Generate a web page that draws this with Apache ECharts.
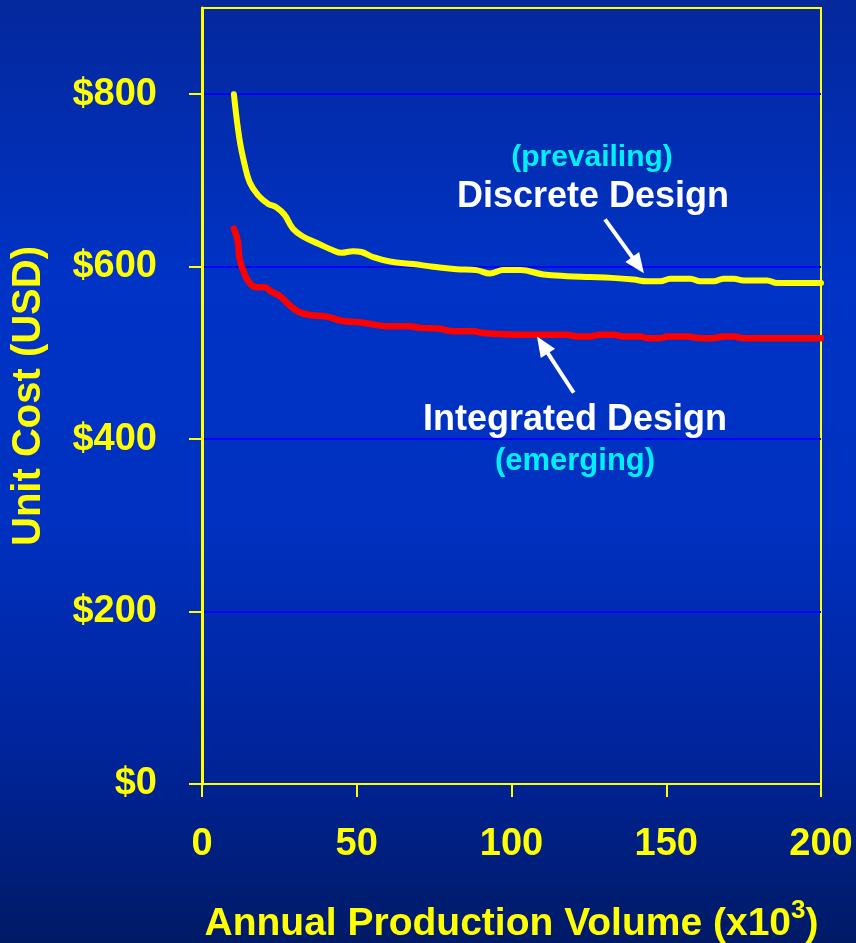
<!DOCTYPE html>
<html>
<head>
<meta charset="utf-8">
<script src="https://cdn.jsdelivr.net/npm/echarts@6/dist/echarts.min.js"></script>
<style>
  html, body { margin: 0; padding: 0; background: #0030c0; }
  #chart { width: 856px; height: 943px; }
</style>
</head>
<body>
<div id="chart"></div>
<script>
// Annual production volume (thousands) and unit cost (USD) for each design approach
const discreteVolume = [10.3, 12.1, 13.8, 15.4, 18.1, 21.3, 24, 26.7, 29.4, 32.6,
  38, 42.3, 45, 48.8, 51.5, 55.3, 60.7, 68.2, 74.7, 82.3,
  88.7, 93, 97.4, 102.8, 110.3, 117.8, 125.4, 132.4, 139.4, 143.8,
  148.1, 151.3, 157.8, 161, 165.3, 168.5, 171.8, 175, 182.6, 185.8, 200];
const discreteCost = [800, 748, 718, 698, 683, 673, 669, 660, 644, 635,
  626, 619, 616, 618, 617, 611, 606, 603, 600, 597,
  596, 592, 596, 596, 591, 589, 588, 587, 585, 583,
  583, 586, 586, 583, 583, 586, 586, 584, 584, 581, 581];

const integratedVolume = [10.3, 11.6, 12.1, 13.8, 15.4, 17.5, 20.2, 22.4, 25.1, 27.8,
  31, 34.8, 40.2, 45.6, 52, 59.6, 67.2, 70.4, 76.9, 81.2,
  87.6, 90.9, 104.9, 117.9, 121.1, 125.4, 128.6, 132.9, 136.2, 141.6,
  143.8, 148.1, 150.3, 156.8, 161, 165.3, 168.5, 171.8, 175, 200];
const integratedCost = [644, 629, 610, 591, 581, 576, 576, 571, 566, 557,
  548, 544, 542, 537, 535, 531, 531, 529, 528, 525,
  525, 523, 521, 521, 519, 519, 521, 521, 519, 519,
  517, 517, 519, 519, 517, 517, 519, 519, 517, 517];

const costTicks = [0, 200, 400, 600, 800];
const volumeTicks = [0, 50, 100, 150, 200];

const pairs = (xs, ys) => xs.map((x, i) => [x, ys[i]]);

const FONT = "'Liberation Sans', Arial, sans-serif";
const YELLOW = '#ffff00';
const CYAN = '#00f0ff';

const chart = echarts.init(document.getElementById('chart'), null, { renderer: 'canvas' });

const arrowLine = {
  silent: true,
  symbol: ['none', 'triangle'],
  symbolSize: [17, 20],
  label: { show: false },
  lineStyle: { color: '#ffffff', width: 4, type: 'solid' },
  emphasis: { disabled: true }
};

chart.setOption({
  animation: false,
  backgroundColor: {
    type: 'linear', x: 0, y: 0, x2: 0, y2: 1,
    colorStops: [
      { offset: 0, color: '#04289c' },
      { offset: 0.3, color: '#0033c6' },
      { offset: 0.55, color: '#0031c0' },
      { offset: 0.8, color: '#00249a' },
      { offset: 1, color: '#001a66' }
    ]
  },
  grid: {
    left: 202, right: 35, top: 8, bottom: 159,
    outerBoundsMode: 'none',
    containLabel: false,
    show: true, borderColor: YELLOW, borderWidth: 2, backgroundColor: 'transparent'
  },
  xAxis: {
    type: 'value',
    min: 0, max: 200, interval: 50,
    name: 'Annual Production Volume (x10{sup|3})',
    nameLocation: 'middle',
    nameGap: 114,
    nameTextStyle: {
      color: YELLOW, fontFamily: FONT, fontWeight: 'bold', fontSize: 39,
      rich: {
        sup: { color: YELLOW, fontFamily: FONT, fontWeight: 'bold', fontSize: 26, verticalAlign: 'top', padding: [0, 0, 26, 0] }
      }
    },
    axisLine: { show: true, lineStyle: { color: YELLOW, width: 2 } },
    axisTick: { show: true, inside: false, length: 13, lineStyle: { color: YELLOW, width: 2 }, customValues: volumeTicks },
    axisLabel: { color: YELLOW, fontFamily: FONT, fontWeight: 'bold', fontSize: 38, margin: 42, customValues: volumeTicks },
    splitLine: { show: false }
  },
  yAxis: {
    type: 'value',
    min: 0, max: 900, interval: 200,
    name: 'Unit Cost (USD)',
    nameLocation: 'middle',
    nameGap: 153,
    nameTextStyle: { color: YELLOW, fontFamily: FONT, fontWeight: 'bold', fontSize: 40 },
    axisLine: { show: true, lineStyle: { color: YELLOW, width: 3 } },
    axisTick: { show: true, inside: false, length: 13, lineStyle: { color: YELLOW, width: 2 }, customValues: costTicks },
    axisLabel: {
      color: YELLOW, fontFamily: FONT, fontWeight: 'bold', fontSize: 38, margin: 45,
      padding: [7, 0, 0, 0],
      customValues: costTicks,
      formatter: v => '$' + v
    },
    splitLine: { show: true, lineStyle: { color: '#0000ff', width: 2 } }
  },
  series: [
    {
      name: 'Discrete Design',
      type: 'line',
      data: pairs(discreteVolume, discreteCost),
      showSymbol: false,
      smooth: 0.4,
      lineStyle: { color: YELLOW, width: 6, cap: 'round', join: 'round' },
      z: 3,
      markLine: Object.assign({}, arrowLine, {
        data: [[{ coord: [130.2, 654.8] }, { coord: [140.9, 601.8] }]]
      })
    },
    {
      name: 'Integrated Design',
      type: 'line',
      data: pairs(integratedVolume, integratedCost),
      showSymbol: false,
      smooth: 0.4,
      lineStyle: { color: '#ff0000', width: 6.5, cap: 'round', join: 'round' },
      z: 3,
      markLine: Object.assign({}, arrowLine, {
        data: [[{ coord: [120.1, 453.8] }, { coord: [110.0, 509.2] }]]
      })
    }
  ],
  graphic: [
    { type: 'text', x: 592, y: 158, z: 10, style: { text: '(prevailing)', fill: CYAN, font: 'bold 30px ' + FONT, textAlign: 'center', textVerticalAlign: 'middle' } },
    { type: 'text', x: 593, y: 197, z: 10, style: { text: 'Discrete Design', fill: '#ffffff', font: 'bold 36px ' + FONT, textAlign: 'center', textVerticalAlign: 'middle' } },
    { type: 'text', x: 575, y: 420, z: 10, style: { text: 'Integrated Design', fill: '#ffffff', font: 'bold 36px ' + FONT, textAlign: 'center', textVerticalAlign: 'middle' } },
    { type: 'text', x: 575, y: 461, z: 10, style: { text: '(emerging)', fill: CYAN, font: 'bold 31px ' + FONT, textAlign: 'center', textVerticalAlign: 'middle' } }
  ]
});
</script>
</body>
</html>
